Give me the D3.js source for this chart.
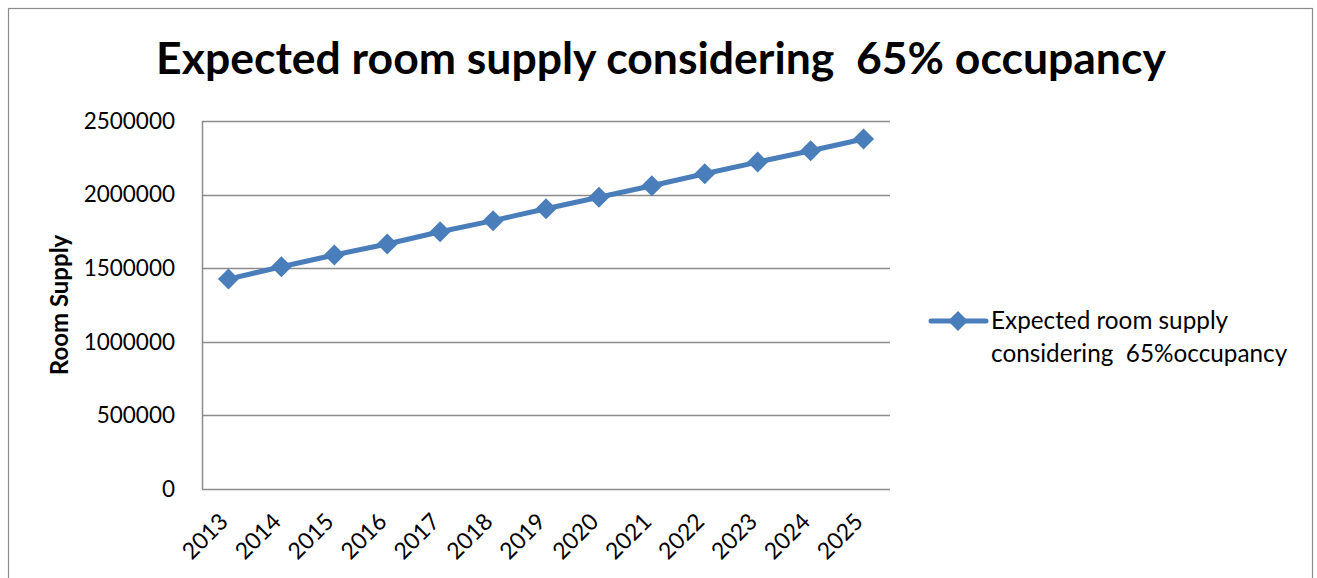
<!DOCTYPE html>
<html><head><meta charset="utf-8">
<script src="https://cdn.jsdelivr.net/npm/d3@7"></script>
<style>html,body{margin:0;padding:0;background:#fff;}svg{display:block;}</style>
</head><body>
<svg id="c" width="1317" height="578"></svg>
<script>
const years = ["2013","2014","2015","2016","2017","2018","2019","2020","2021","2022","2023","2024","2025"];
const supply = [1426000,1510000,1590000,1664000,1748000,1823000,1904000,1982000,2060000,2142000,2221000,2298000,2378000];
const yTicks = [0,500000,1000000,1500000,2000000,2500000];
const titleText = "Expected room supply considering  65% occupancy";
const yTitle = "Room Supply";
const legendLines = ["Expected room supply","considering  65%occupancy"];

const svg = d3.select("#c");
const font = "Lato, 'Open Sans', sans-serif";
const blue = "#4a7ebb";
const grid = "#8c8c8c";

// outer border
svg.append("rect").attr("x",8.5).attr("y",8.5).attr("width",1304).attr("height",600)
  .attr("fill","none").attr("stroke",grid).attr("stroke-width",1.2);

const L=202, R=890, T=121, B=489;
const x = d3.scaleBand().domain(years).range([L,R]);
const y = d3.scaleLinear().domain([0,2500000]).range([B,T]);

// gridlines
svg.append("g").selectAll("line").data(yTicks).join("line")
  .attr("x1",L).attr("x2",R).attr("y1",d=>Math.round(y(d))+0.5).attr("y2",d=>Math.round(y(d))+0.5)
  .attr("stroke",grid).attr("stroke-width",1.5);
// left axis
svg.append("line").attr("x1",L+0.5).attr("x2",L+0.5).attr("y1",T).attr("y2",B)
  .attr("stroke",grid).attr("stroke-width",1.5);

// y axis labels
const ya = svg.append("g").attr("transform",`translate(${L},0)`)
  .call(d3.axisLeft(y).tickValues(yTicks).tickSize(0).tickPadding(27).tickFormat(d=>String(d)));
ya.select(".domain").remove();
ya.selectAll("text").attr("font-family",font).attr("font-size",22.5).attr("fill","#000");

// x axis labels
const xa = svg.append("g").attr("transform",`translate(0,${B})`)
  .call(d3.axisBottom(x).tickSize(0).tickFormat(d=>d));
xa.select(".domain").remove();
xa.selectAll("text").attr("font-family",font).attr("font-size",23).attr("fill","#000")
  .attr("text-anchor","end").attr("dy",null).attr("y",0)
  .attr("transform","translate(1,34) rotate(-45)");

// line
const cx = d=>x(d)+x.bandwidth()/2;
svg.append("path").datum(years.map((yr,i)=>[cx(yr),y(supply[i])]))
  .attr("d",d3.line()).attr("fill","none").attr("stroke",blue).attr("stroke-width",5).attr("stroke-linejoin","round");
svg.append("g").selectAll("path").data(years).join("path")
  .attr("d",(d,i)=>{const px=cx(d),py=y(supply[i]),r=10.5;return `M${px},${py-r}L${px+r},${py}L${px},${py+r}L${px-r},${py}Z`;})
  .attr("fill",blue);

// title
svg.append("text").attr("x",661).attr("y",74).attr("text-anchor","middle")
  .attr("font-family",font).attr("font-weight","bold").attr("font-size",44.5).attr("fill","#000")
  .attr("xml:space","preserve").style("white-space","pre").text(titleText);

// y title
svg.append("text").attr("transform","translate(68,305) rotate(-90)").attr("text-anchor","middle")
  .attr("font-family",font).attr("font-weight","bold").attr("font-size",24).attr("fill","#000").text(yTitle);

// legend
svg.append("line").attr("x1",931).attr("x2",986).attr("y1",321).attr("y2",321).attr("stroke",blue).attr("stroke-width",5).attr("stroke-linecap","round");
svg.append("path").attr("d","M958,311L968,321L958,331L948,321Z").attr("fill",blue);
svg.append("g").selectAll("text").data(legendLines).join("text")
  .attr("x",991).attr("y",(d,i)=>329+i*33).attr("font-family",font).attr("font-size",24.3).attr("fill","#000")
  .attr("xml:space","preserve").style("white-space","pre").text(d=>d);
</script>
</body></html>
